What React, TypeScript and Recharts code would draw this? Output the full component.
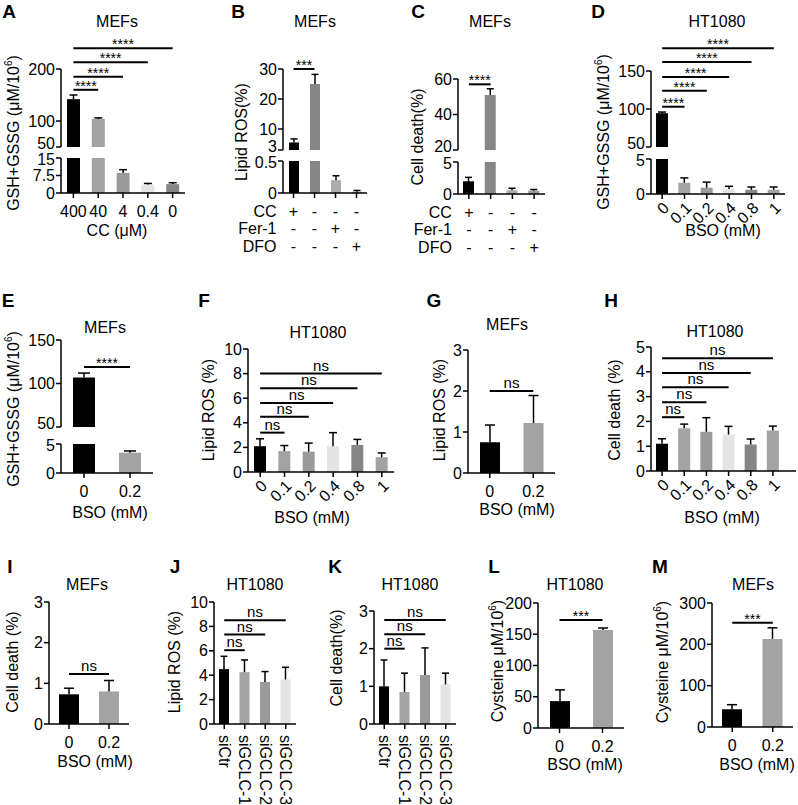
import React from "react";
import { BarChart, Bar, XAxis, YAxis, Cell, ErrorBar, ReferenceLine } from "recharts";

type Sig = [number, number, number];
type Range = { top: number; bottom: number; domain: [number, number]; ticks: number[] };

const FONT = "'Liberation Sans', Arial, Helvetica, sans-serif";
const K0 = "#000000";
const G1 = "#a3a3a3";
const G2 = "#9a9a9a";
const G3 = "#e4e4e4";
const G4 = "#868686";

// A - MEFs, GSH+GSSG vs CC
const A_CATS = ["400", "40", "4", "0.4", "0"];
const A_VALS = [142, 104, 8.6, 3.6, 3.8];
const A_ERRS = [8, 2, 1.4, 0.5, 0.6];
const A_FILLS = [K0, G1, G2, G3, G4];
const A_SIG: Sig[] = [[0, 1, 160], [0, 2, 185], [0, 3, 213], [0, 4, 240]];

// B / C - sign table
const TABLE_ROWS = ["CC", "Fer-1", "DFO"];
const BC_CATS = ["CC+", "ctrl", "Fer-1+", "DFO+"];
const BC_SIGNS = [
  ["+", "-", "-", "-"],
  ["-", "-", "+", "-"],
  ["-", "-", "-", "+"],
];
const BC_FILLS = [K0, G4, "#ababab", "#999999"];
const B_VALS = [5.5, 25, 0.2, 0.02];
const B_ERRS = [1.2, 3.2, 0.07, 0.02];
const B_SIG: Sig[] = [[0, 1, 30]];
const C_VALS = [2.0, 51, 0.6, 0.5];
const C_ERRS = [0.6, 3.5, 0.3, 0.2];
const C_SIG: Sig[] = [[0, 1, 57]];

// D - HT1080 GSH+GSSG vs BSO
const BSO6 = ["0", "0.1", "0.2", "0.4", "0.8", "1"];
const FILLS6 = [K0, G1, G2, G3, G4, G1];
const D_VALS = [94.5, 1.6, 0.9, 0.7, 0.6, 0.6];
const D_ERRS = [1.5, 0.7, 0.8, 0.4, 0.4, 0.4];
const D_SIG: Sig[] = [[0, 1, 103], [0, 2, 124], [0, 3, 142], [0, 4, 162], [0, 5, 180]];

// two-bar BSO panels
const BSO2 = ["0", "0.2"];
const FILLS2 = [K0, G1];
const E_VALS = [107, 3.5];
const E_ERRS = [5, 0.3];
const E_SIG: Sig[] = [[0, 1, 119]];

const F_VALS = [2.1, 1.7, 1.65, 2.1, 2.2, 1.2];
const F_ERRS = [0.6, 0.45, 0.7, 1.1, 0.45, 0.35];
const F_SIG: Sig[] = [[0, 1, 3.2], [0, 2, 4.5], [0, 3, 5.6], [0, 4, 6.8], [0, 5, 8.0]];

const G_VALS = [0.75, 1.22];
const G_ERRS = [0.42, 0.67];
const G_SIG: Sig[] = [[0, 1, 2.0]];

const H_VALS = [1.1, 1.72, 1.58, 1.47, 1.07, 1.63];
const H_ERRS = [0.2, 0.17, 0.57, 0.33, 0.22, 0.18];
const H_SIG: Sig[] = [[0, 1, 2.17], [0, 2, 2.77], [0, 3, 3.38], [0, 4, 3.95], [0, 5, 4.55]];

const I_VALS = [0.73, 0.8];
const I_ERRS = [0.15, 0.27];
const I_SIG: Sig[] = [[0, 1, 1.23]];

const SI_CATS = ["siCtr", "siGCLC-1", "siGCLC-2", "siGCLC-3"];
const SI_FILLS = [K0, G1, G2, G3];
const J_VALS = [4.5, 4.25, 3.45, 3.65];
const J_ERRS = [1.05, 1.0, 0.85, 1.0];
const J_SIG: Sig[] = [[0, 1, 6.05], [0, 2, 7.33], [0, 3, 8.5]];
const K_VALS = [1.0, 0.85, 1.3, 1.05];
const K_ERRS = [0.7, 0.5, 0.72, 0.3];
const K_SIG: Sig[] = [[0, 1, 2.0], [0, 2, 2.38], [0, 3, 2.76]];

const L_VALS = [43, 157];
const L_ERRS = [18, 3];
const L_SIG: Sig[] = [[0, 1, 173]];
const M_VALS = [43, 213];
const M_ERRS = [11, 27];
const M_SIG: Sig[] = [[0, 1, 252]];

const CSS = `.recharts-errorBar line:nth-of-type(3){display:none}`;
const AX = { stroke: "#000", strokeWidth: 1.5 };
const YW = 44;
const MT = 60;
const MR = 2;

function signTick(p: any) {
  const { x, y, index } = p;
  return (
    <g>
      {TABLE_ROWS.map((row, r) => (
        <g key={row}>
          {index === 0 && (
            <text x={x - 17} y={y + 5 + r * 17.5} dy="0.35em" textAnchor="end" fontSize={16} fill="#000">
              {row}
            </text>
          )}
          <text x={x} y={y + 5 + r * 17.5} dy="0.35em" textAnchor="middle" fontSize={16} fill="#000">
            {BC_SIGNS[r][index]}
          </text>
        </g>
      ))}
    </g>
  );
}

function rotTick(p: any) {
  const ax = p.x + 4;
  const ay = p.y - 2;
  return (
    <text x={ax} y={ay} transform={`rotate(-45 ${ax} ${ay})`} textAnchor="end" dy="0.35em" fontSize={16} fill="#000">
      {p.payload.value}
    </text>
  );
}

function vertTick(p: any) {
  const ay = p.y - 2;
  return (
    <text x={p.x} y={ay} transform={`rotate(90 ${p.x} ${ay})`} textAnchor="start" dy="0.35em" fontSize={16} fill="#000">
      {p.payload.value}
    </text>
  );
}

// y tick labels; at an axis break the edge label is eased away from its neighbour
function yTick(part: string, lo: number, hi: number) {
  return (p: any) => {
    const v = p.payload.value;
    let shift = 0;
    if (part === "top" && v === lo) shift = -4;
    if (part === "bottom" && v === hi) shift = 1;
    return (
      <text x={p.x} y={p.y + shift} dy="0.355em" textAnchor="end" fontSize={16} fill="#000">
        {v}
      </text>
    );
  };
}

function Seg({
  cats, vals, errs, fills, x0, x1, r, part = "full", barSize, cap = 4,
  xh = 0, tick, padRight = 0, sig, sigText = "ns",
}: {
  cats: string[]; vals: number[]; errs: number[]; fills: string[];
  x0: number; x1: number; r: Range; part?: "top" | "bottom" | "full";
  barSize: number; cap?: number; xh?: number; tick?: any; padRight?: number;
  sig?: Sig[]; sigText?: string;
}) {
  const [lo, hi] = r.domain;
  const rows = cats.map((cat, i) => {
    const v = vals[i];
    if (part === "top") return v > lo ? { cat, v, e: [0, errs[i]] } : { cat, v: null, e: null };
    return v > hi ? { cat, v: hi, e: null } : { cat, v, e: [0, errs[i]] };
  });
  const star = sigText.startsWith("*");
  const mb = part === "top" ? 12 : 0;
  const w = YW + (x1 - x0) + MR;
  const h = MT + (r.bottom - r.top) + xh + mb;
  return (
    <div style={{ position: "absolute", left: x0 - YW, top: r.top - MT }}>
      <BarChart width={w} height={h} data={rows} margin={{ top: MT, right: MR, bottom: mb, left: 0 }}>
        <XAxis
          dataKey="cat"
          hide={xh === 0}
          height={xh}
          interval={0}
          tickSize={5}
          tickMargin={8}
          padding={{ left: 0, right: padRight }}
          axisLine={AX}
          tickLine={AX}
          tick={tick ?? { fill: "#000", fontSize: 16 }}
        />
        <YAxis
          type="number"
          width={YW}
          domain={r.domain}
          ticks={r.ticks}
          interval={0}
          allowDataOverflow
          tickSize={5}
          tickMargin={1}
          axisLine={AX}
          tickLine={AX}
          tick={yTick(part, lo, hi)}
        />
        <Bar dataKey="v" barSize={barSize} isAnimationActive={false}>
          {rows.map((_, i) => (
            <Cell key={i} fill={fills[i]} />
          ))}
          <ErrorBar dataKey="e" direction="y" width={cap} stroke="#000" strokeWidth={1.5} isAnimationActive={false} />
        </Bar>
        {sig?.map(([a, b, y], i) => (
          <ReferenceLine
            key={i}
            segment={[{ x: cats[a], y }, { x: cats[b], y }]}
            stroke="#000"
            strokeWidth={2}
            ifOverflow="visible"
            label={{ value: sigText, position: "top", fill: "#000", fontSize: star ? 14 : 15, offset: star ? -1 : 3 }}
          />
        ))}
      </BarChart>
    </div>
  );
}

function Txt({ x, y, size = 16, bold = false, rot = 0, children }: any) {
  return (
    <div
      style={{
        position: "absolute",
        left: x,
        top: y,
        transform: `translate(-50%, -50%) rotate(${rot}deg)`,
        fontSize: size,
        fontWeight: bold ? 700 : 400,
        whiteSpace: "nowrap",
        lineHeight: 1,
      }}
    >
      {children}
    </div>
  );
}

const GSH = (
  <>
    GSH+GSSG (μM/10<sup style={{ fontSize: 10 }}>6</sup>)
  </>
);
const CYS = (
  <>
    Cysteine μM/10<sup style={{ fontSize: 10 }}>6</sup>)
  </>
);

export default function App() {
  return (
    <div
      style={{
        position: "absolute",
        left: 0,
        top: 0,
        width: 798,
        height: 805,
        overflow: "hidden",
        background: "#fff",
        fontFamily: FONT,
        color: "#000",
      }}
    >
      <style>{CSS}</style>

      {/* A */}
      <Seg cats={A_CATS} vals={A_VALS} errs={A_ERRS} fills={A_FILLS} x0={61} x1={185} part="top"
        r={{ top: 69, bottom: 147, domain: [50, 200], ticks: [50, 100, 200] }} barSize={13} sig={A_SIG} sigText="****" />
      <Seg cats={A_CATS} vals={A_VALS} errs={A_ERRS} fills={A_FILLS} x0={61} x1={185} part="bottom"
        r={{ top: 158, bottom: 193, domain: [0, 15], ticks: [0, 7.5, 15] }} barSize={13} xh={30} />

      {/* B */}
      <Seg cats={BC_CATS} vals={B_VALS} errs={B_ERRS} fills={BC_FILLS} x0={283} x1={367} part="top"
        r={{ top: 69, bottom: 150, domain: [3, 30], ticks: [3, 10, 20, 30] }} barSize={10} cap={3.5} sig={B_SIG} sigText="***" />
      <Seg cats={BC_CATS} vals={B_VALS} errs={B_ERRS} fills={BC_FILLS} x0={283} x1={367} part="bottom"
        r={{ top: 161, bottom: 193, domain: [0, 0.5], ticks: [0, 0.5] }} barSize={10} cap={3.5} xh={65} tick={signTick} />

      {/* C */}
      <Seg cats={BC_CATS} vals={C_VALS} errs={C_ERRS} fills={BC_FILLS} x0={458} x1={545} part="top"
        r={{ top: 79, bottom: 150, domain: [20, 60], ticks: [20, 40, 60] }} barSize={11} cap={3.5} sig={C_SIG} sigText="****" />
      <Seg cats={BC_CATS} vals={C_VALS} errs={C_ERRS} fills={BC_FILLS} x0={458} x1={545} part="bottom"
        r={{ top: 162, bottom: 194, domain: [0, 5], ticks: [0, 5] }} barSize={11} cap={3.5} xh={65} tick={signTick} />

      {/* D */}
      <Seg cats={BSO6} vals={D_VALS} errs={D_ERRS} fills={FILLS6} x0={651} x1={785} part="top"
        r={{ top: 71, bottom: 147, domain: [50, 150], ticks: [50, 100, 150] }} barSize={12} sig={D_SIG} sigText="****" />
      <Seg cats={BSO6} vals={D_VALS} errs={D_ERRS} fills={FILLS6} x0={651} x1={785} part="bottom"
        r={{ top: 159, bottom: 194, domain: [0, 5], ticks: [0, 5] }} barSize={12} xh={40} tick={rotTick} />

      {/* E */}
      <Seg cats={BSO2} vals={E_VALS} errs={E_ERRS} fills={FILLS2} x0={61} x1={153} part="top"
        r={{ top: 340, bottom: 427, domain: [50, 150], ticks: [50, 100, 150] }} barSize={22} cap={6} sig={E_SIG} sigText="****" />
      <Seg cats={BSO2} vals={E_VALS} errs={E_ERRS} fills={FILLS2} x0={61} x1={153} part="bottom"
        r={{ top: 444, bottom: 473, domain: [0, 5], ticks: [0, 5] }} barSize={22} cap={6} xh={30} />

      {/* F */}
      <Seg cats={BSO6} vals={F_VALS} errs={F_ERRS} fills={FILLS6} x0={248} x1={394}
        r={{ top: 349, bottom: 472, domain: [0, 10], ticks: [0, 2, 4, 6, 8, 10] }} barSize={12} xh={40} tick={rotTick} sig={F_SIG} />

      {/* G */}
      <Seg cats={BSO2} vals={G_VALS} errs={G_ERRS} fills={FILLS2} x0={468} x1={555}
        r={{ top: 350, bottom: 473, domain: [0, 3], ticks: [0, 1, 2, 3] }} barSize={20} cap={5} xh={30} sig={G_SIG} />

      {/* H */}
      <Seg cats={BSO6} vals={H_VALS} errs={H_ERRS} fills={FILLS6} x0={651} x1={796} padRight={12}
        r={{ top: 347, bottom: 471, domain: [0, 5], ticks: [0, 1, 2, 3, 4, 5] }} barSize={12} xh={40} tick={rotTick} sig={H_SIG} />

      {/* I */}
      <Seg cats={BSO2} vals={I_VALS} errs={I_ERRS} fills={FILLS2} x0={49} x1={129}
        r={{ top: 602, bottom: 724, domain: [0, 3], ticks: [0, 1, 2, 3] }} barSize={20} cap={5} xh={30} sig={I_SIG} />

      {/* J */}
      <Seg cats={SI_CATS} vals={J_VALS} errs={J_ERRS} fills={SI_FILLS} x0={214} x1={296}
        r={{ top: 602, bottom: 724, domain: [0, 10], ticks: [0, 2, 4, 6, 8, 10] }} barSize={10} cap={3.5} xh={80} tick={vertTick} sig={J_SIG} />

      {/* K */}
      <Seg cats={SI_CATS} vals={K_VALS} errs={K_ERRS} fills={SI_FILLS} x0={374} x1={456}
        r={{ top: 611, bottom: 724, domain: [0, 3], ticks: [0, 1, 2, 3] }} barSize={10} cap={3.5} xh={80} tick={vertTick} sig={K_SIG} />

      {/* L */}
      <Seg cats={BSO2} vals={L_VALS} errs={L_ERRS} fills={FILLS2} x0={538} x1={624}
        r={{ top: 603, bottom: 728, domain: [0, 200], ticks: [0, 50, 100, 150, 200] }} barSize={20} cap={5} xh={30} sig={L_SIG} sigText="***" />

      {/* M */}
      <Seg cats={BSO2} vals={M_VALS} errs={M_ERRS} fills={FILLS2} x0={712} x1={793}
        r={{ top: 603, bottom: 727, domain: [0, 300], ticks: [0, 100, 200, 300] }} barSize={20} cap={5} xh={30} sig={M_SIG} sigText="***" />

      {/* panel letters */}
      <Txt x={9} y={11} size={19} bold>A</Txt>
      <Txt x={238} y={11} size={19} bold>B</Txt>
      <Txt x={418} y={11} size={19} bold>C</Txt>
      <Txt x={598} y={11} size={19} bold>D</Txt>
      <Txt x={8} y={300} size={19} bold>E</Txt>
      <Txt x={204} y={300} size={19} bold>F</Txt>
      <Txt x={434} y={300} size={19} bold>G</Txt>
      <Txt x={611} y={300} size={19} bold>H</Txt>
      <Txt x={10} y={566} size={19} bold>I</Txt>
      <Txt x={175} y={566} size={19} bold>J</Txt>
      <Txt x={335} y={566} size={19} bold>K</Txt>
      <Txt x={494} y={566} size={19} bold>L</Txt>
      <Txt x={660} y={566} size={19} bold>M</Txt>

      {/* titles */}
      <Txt x={117} y={22}>MEFs</Txt>
      <Txt x={315} y={22}>MEFs</Txt>
      <Txt x={490} y={22}>MEFs</Txt>
      <Txt x={717} y={22}>HT1080</Txt>
      <Txt x={105} y={328}>MEFs</Txt>
      <Txt x={318} y={333}>HT1080</Txt>
      <Txt x={507} y={325}>MEFs</Txt>
      <Txt x={715} y={332}>HT1080</Txt>
      <Txt x={87} y={585}>MEFs</Txt>
      <Txt x={255} y={585}>HT1080</Txt>
      <Txt x={410} y={585}>HT1080</Txt>
      <Txt x={575} y={585}>HT1080</Txt>
      <Txt x={753} y={585}>MEFs</Txt>

      {/* y axis titles */}
      <Txt x={13} y={133} rot={-90}>{GSH}</Txt>
      <Txt x={242} y={132} rot={-90}>Lipid ROS(%)</Txt>
      <Txt x={418} y={137} rot={-90}>Cell death(%)</Txt>
      <Txt x={603} y={132} rot={-90}>{GSH}</Txt>
      <Txt x={13} y={409} rot={-90}>{GSH}</Txt>
      <Txt x={209} y={410} rot={-90}>Lipid ROS (%)</Txt>
      <Txt x={440} y={410} rot={-90}>Lipid ROS (%)</Txt>
      <Txt x={615} y={410} rot={-90}>Cell death (%)</Txt>
      <Txt x={13} y={662} rot={-90}>Cell death (%)</Txt>
      <Txt x={175} y={662} rot={-90}>Lipid ROS (%)</Txt>
      <Txt x={337} y={658} rot={-90}>Cell death(%)</Txt>
      <Txt x={497} y={661} rot={-90}>{CYS}</Txt>
      <Txt x={662} y={662} rot={-90}>{CYS}</Txt>

      {/* x axis titles */}
      <Txt x={117} y={231}>CC (μM)</Txt>
      <Txt x={723} y={231}>BSO (mM)</Txt>
      <Txt x={110} y={513}>BSO (mM)</Txt>
      <Txt x={312} y={518}>BSO (mM)</Txt>
      <Txt x={517} y={510}>BSO (mM)</Txt>
      <Txt x={722} y={518}>BSO (mM)</Txt>
      <Txt x={95} y={762}>BSO (mM)</Txt>
      <Txt x={585} y={765}>BSO (mM)</Txt>
      <Txt x={757} y={765}>BSO (mM)</Txt>
    </div>
  );
}
